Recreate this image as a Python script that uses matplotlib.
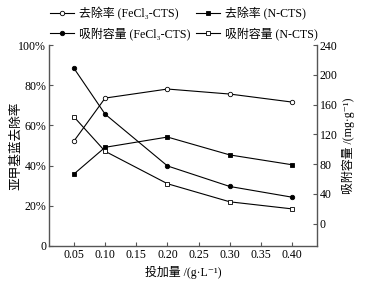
import matplotlib
matplotlib.use("Agg")
import matplotlib.pyplot as plt
from matplotlib.ticker import FuncFormatter

plt.rcParams['font.family'] = ['Liberation Serif', 'Noto Sans CJK SC', 'DejaVu Serif']
plt.rcParams['axes.unicode_minus'] = False

# dosage (g/L)
dose = [0.05, 0.10, 0.20, 0.30, 0.40]
# removal rate (%), left axis
removal_fecl3 = [52.2, 73.6, 78.1, 75.6, 71.6]
removal_n = [35.8, 49.1, 54.2, 45.3, 40.4]
# adsorption capacity (mg/g), right axis
capacity_fecl3 = [208.8, 147.1, 77.5, 49.9, 35.5]
capacity_n = [143.5, 97.2, 53.6, 29.3, 19.8]

x_ticks = [0.05, 0.10, 0.15, 0.20, 0.25, 0.30, 0.35, 0.40]
left_ticks = [0, 20, 40, 60, 80, 100]
right_ticks = [0, 40, 80, 120, 160, 200, 240]

fs = 8.6
spine_c = '#555555'

fig = plt.figure(figsize=(3.74, 2.85), dpi=100)
ax = fig.add_axes([0.131, 0.137, 0.717, 0.705])
ax2 = ax.twinx()

kw = dict(color='black', lw=0.8, ms=3.2, markeredgewidth=0.6)
l1, = ax.plot(dose, removal_fecl3, marker='o', mfc='white', mec='black', **kw)
l2, = ax.plot(dose, removal_n, marker='s', mfc='black', mec='black', **kw)
l3, = ax2.plot(dose, capacity_fecl3, marker='o', mfc='black', mec='black', **kw)
l4, = ax2.plot(dose, capacity_n, marker='s', mfc='white', mec='black', **kw)

ax.set_xlim(0.01, 0.44)
ax.set_ylim(0, 100)
ax2.set_ylim(-30, 240)

ax.set_xticks(x_ticks)
ax.set_xticklabels([f"{t:.2f}" for t in x_ticks])
ax.set_yticks(left_ticks)
ax.yaxis.set_major_formatter(FuncFormatter(lambda v, p: "0" if v == 0 else f"{v:.0f}%"))
ax2.set_yticks(right_ticks)

for a in (ax, ax2):
    a.spines['top'].set_visible(False)
    for s in ('left', 'right', 'bottom'):
        a.spines[s].set_color(spine_c)
        a.spines[s].set_linewidth(1.0)
    a.tick_params(direction='in', length=3, width=0.8, color=spine_c,
                  labelsize=fs, pad=2)
ax.spines['right'].set_visible(False)
ax2.spines['left'].set_visible(False)
ax2.spines['bottom'].set_visible(False)

ax.set_ylabel("亚甲基蓝去除率", fontsize=fs + 0.5)
ax.yaxis.set_label_coords(-0.1, 0.5)
ax2.set_ylabel("吸附容量 /(mg·g⁻¹)", fontsize=fs, labelpad=3)
ax.set_xlabel("投加量 /(g·L⁻¹)", fontsize=fs, labelpad=4)

# legend fills column-wise, so order handles accordingly
fig.legend([l1, l3, l2, l4],
           ["去除率 (FeCl₃-CTS)", "吸附容量 (FeCl₃-CTS)",
            "去除率 (N-CTS)", "吸附容量 (N-CTS)"],
           ncol=2, loc='upper left', bbox_to_anchor=(0.115, 1.0),
           frameon=False, fontsize=fs, handlelength=2.0, handletextpad=0.4,
           columnspacing=0.5, labelspacing=0.55, borderaxespad=0.2)

fig.savefig("out.png", dpi=100)
